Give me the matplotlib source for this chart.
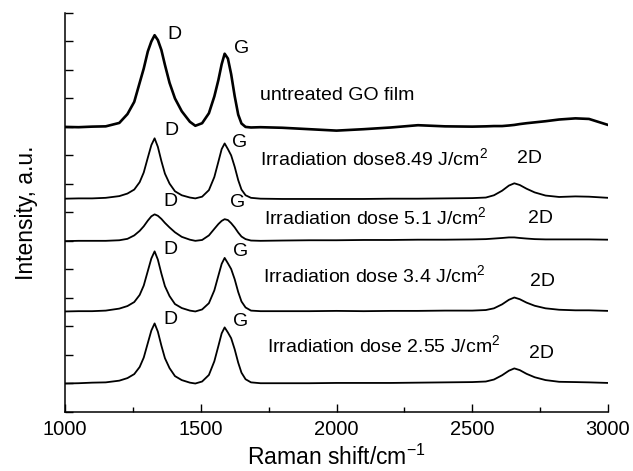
import matplotlib
matplotlib.use('Agg')
import matplotlib.pyplot as plt
from matplotlib.ticker import MultipleLocator

plt.rcParams['font.family'] = ['Liberation Sans', 'DejaVu Sans']
plt.rcParams['mathtext.fontset'] = 'custom'
plt.rcParams['mathtext.rm'] = 'Liberation Sans'
plt.rcParams['mathtext.it'] = 'Liberation Sans:italic'

# Raman shift grid (cm^-1), shared by all spectra
shift = [1000, 1050, 1100, 1150, 1200, 1230, 1255, 1275, 1290, 1305, 1318, 1330,
         1342, 1355, 1368, 1385, 1405, 1430, 1460, 1480, 1505, 1530, 1550, 1565,
         1577, 1588, 1600, 1612, 1625, 1638, 1650, 1665, 1685, 1720, 1800, 1900,
         2000, 2100, 2200, 2300, 2400, 2500, 2550, 2580, 2610, 2635, 2655, 2675,
         2700, 2730, 2770, 2820, 2880, 2930, 3000]

# stacked intensities (offset already included)
go_film = [10.00, 9.99, 10.01, 10.02, 10.14, 10.45, 10.88, 11.55, 12.05, 12.65, 13.00, 13.22,
           13.05, 12.70, 12.18, 11.55, 11.00, 10.55, 10.18, 10.04, 10.13, 10.48, 11.07, 11.65,
           12.20, 12.57, 12.40, 11.85, 11.08, 10.43, 10.12, 10.00, 9.98, 9.99, 9.97, 9.92,
           9.87, 9.92, 9.98, 10.06, 10.02, 10.01, 10.02, 10.03, 10.03, 10.05, 10.07, 10.10,
           10.13, 10.16, 10.20, 10.26, 10.30, 10.28, 10.07]
dose_849 = [7.48, 7.49, 7.49, 7.51, 7.57, 7.66, 7.80, 8.06, 8.40, 8.92, 9.36, 9.60,
            9.30, 8.80, 8.36, 8.01, 7.74, 7.60, 7.52, 7.49, 7.55, 7.78, 8.24, 8.78,
            9.22, 9.42, 9.22, 9.00, 8.60, 8.13, 7.80, 7.60, 7.51, 7.48, 7.47, 7.47,
            7.47, 7.47, 7.48, 7.48, 7.49, 7.50, 7.52, 7.60, 7.76, 7.94, 8.02, 7.96,
            7.83, 7.70, 7.59, 7.54, 7.56, 7.55, 7.51]
dose_51 = [5.99, 6.00, 6.00, 6.00, 6.02, 6.07, 6.19, 6.35, 6.51, 6.71, 6.86, 6.93,
           6.88, 6.77, 6.63, 6.47, 6.30, 6.14, 6.04, 6.00, 6.03, 6.19, 6.42, 6.59,
           6.70, 6.76, 6.73, 6.62, 6.47, 6.29, 6.15, 6.06, 6.01, 6.00, 6.01, 6.02,
           6.02, 6.03, 6.03, 6.04, 6.04, 6.05, 6.06, 6.08, 6.10, 6.12, 6.12, 6.10,
           6.08, 6.06, 6.05, 6.05, 6.05, 6.05, 6.04]
dose_34 = [3.52, 3.53, 3.53, 3.55, 3.62, 3.71, 3.85, 4.10, 4.43, 4.94, 5.38, 5.63,
           5.34, 4.85, 4.41, 4.06, 3.78, 3.64, 3.55, 3.52, 3.59, 3.81, 4.26, 4.78,
           5.19, 5.40, 5.21, 5.01, 4.65, 4.20, 3.87, 3.66, 3.55, 3.53, 3.53, 3.53,
           3.54, 3.53, 3.54, 3.54, 3.55, 3.55, 3.57, 3.63, 3.77, 3.93, 4.01, 3.95,
           3.83, 3.72, 3.63, 3.58, 3.56, 3.56, 3.54]
dose_255 = [0.99, 1.00, 1.02, 1.03, 1.09, 1.18, 1.32, 1.57, 1.90, 2.41, 2.85, 3.10,
            2.81, 2.32, 1.88, 1.53, 1.25, 1.11, 1.02, 0.99, 1.06, 1.29, 1.77, 2.31,
            2.75, 2.96, 2.78, 2.58, 2.19, 1.72, 1.37, 1.14, 1.03, 1.00, 1.00, 1.00,
            1.01, 1.01, 1.01, 1.02, 1.03, 1.04, 1.06, 1.13, 1.28, 1.44, 1.52, 1.46,
            1.33, 1.21, 1.11, 1.05, 1.04, 1.03, 1.01]

spectra = [go_film, dose_849, dose_51, dose_34, dose_255]
widths = [1.9, 1.3, 1.3, 1.3, 1.3]

sample_labels = ['untreated GO film',
                 'Irradiation dose8.49 J/cm$^2$',
                 'Irradiation dose 5.1 J/cm$^2$',
                 'Irradiation dose 3.4 J/cm$^2$',
                 'Irradiation dose 2.55 J/cm$^2$']
sample_label_pos = [(1718, 11.12), (1718, 8.90), (1733, 6.84), (1729, 4.80), (1744, 2.34)]
d_pos = [(1376, 13.24), (1365, 9.89), (1361, 7.38), (1361, 5.71), (1361, 3.24)]
g_pos = [(1622, 12.75), (1615, 9.45), (1608, 7.36), (1619, 5.62), (1619, 3.17)]
band_2d_pos = [(2665, 8.90), (2705, 6.77), (2713, 4.57), (2709, 2.06)]

fig = plt.figure(figsize=(6.33, 4.71), dpi=100)
ax = fig.add_axes([0.1027, 0.1259, 0.8578, 0.8465])

for y, lw in zip(spectra, widths):
    ax.plot(shift, y, color='black', linewidth=lw)

fs = 14
for txt, (x, y) in zip(sample_labels, sample_label_pos):
    ax.text(x, y, txt, fontsize=fs, ha='left', va='center')
for x, y in d_pos:
    ax.text(x, y, 'D', fontsize=fs, ha='left', va='center')
for x, y in g_pos:
    ax.text(x, y, 'G', fontsize=fs, ha='left', va='center')
for x, y in band_2d_pos:
    ax.text(x, y, '2D', fontsize=fs, ha='left', va='center')

ax.set_xlim(1000, 3000)
ax.set_ylim(0, 14)
ax.xaxis.set_major_locator(MultipleLocator(500))
ax.xaxis.set_minor_locator(MultipleLocator(250))
ax.yaxis.set_major_locator(MultipleLocator(1))
ax.set_yticklabels([])
ax.tick_params(which='major', direction='in', length=6, width=1, labelsize=14.5)
ax.tick_params(which='minor', direction='in', length=3.6, width=1)
ax.tick_params(axis='x', which='major', pad=6)
ax.spines['top'].set_visible(False)
ax.spines['right'].set_visible(False)
ax.spines['left'].set_linewidth(1.1)
ax.spines['bottom'].set_linewidth(1.1)

ax.set_xlabel('Raman shift/cm$^{-1}$', fontsize=16.5, labelpad=4)
ax.set_ylabel('Intensity, a.u.', fontsize=16.5, labelpad=16)

fig.savefig('out.png', dpi=100)
